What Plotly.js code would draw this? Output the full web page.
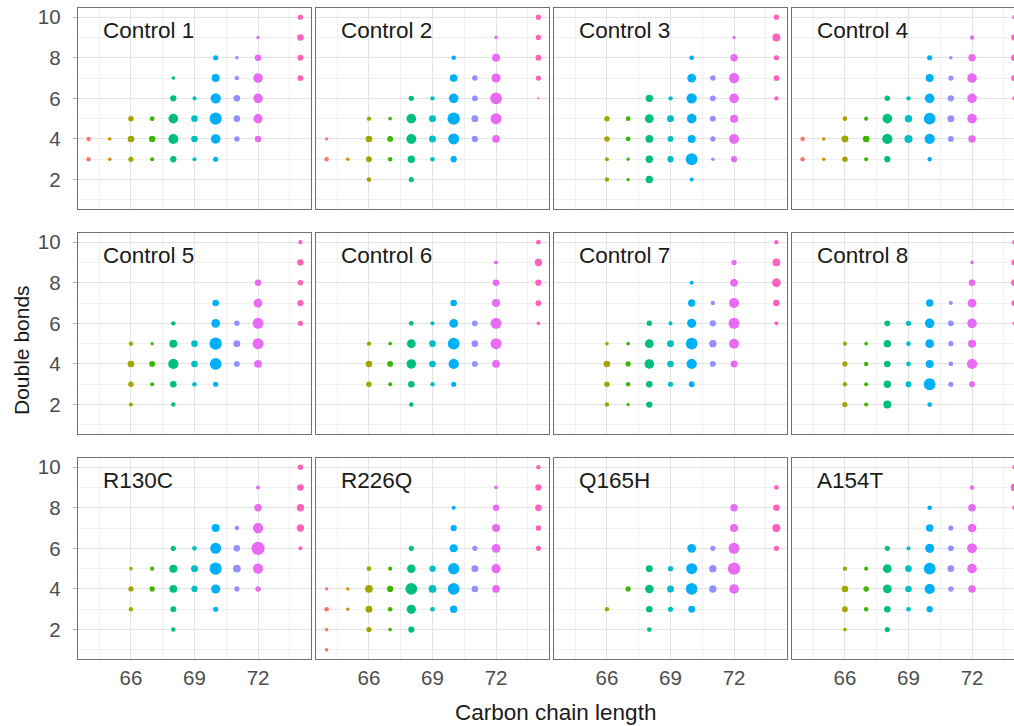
<!DOCTYPE html>
<html>
<head>
<meta charset="utf-8">
<script src="https://cdn.plot.ly/plotly-3.0.1.min.js"></script>
<style>
html, body { margin: 0; padding: 0; overflow: hidden; background: #fff; }
#plot { width: 1025px; height: 726px; }
</style>
</head>
<body>
<div id="plot"></div>
<script>
// ---- data: [carbon chain length, double bonds, relative abundance] ----
const chainLevels = [64, 65, 66, 67, 68, 69, 70, 71, 72, 74];
const panelNames = ["Control 1", "Control 2", "Control 3", "Control 4",
                    "Control 5", "Control 6", "Control 7", "Control 8",
                    "R130C", "R226Q", "Q165H", "A154T"];
const xTicks = [66, 69, 72];
const yTicks = [2, 4, 6, 8, 10];

const control1 = [
  [64,4,4],[64,3,4],[65,4,3.3],[65,3,3.3],
  [66,5,5],[66,4,6],[66,3,4.7],
  [67,5,4.3],[67,4,5.7],[67,3,3.7],
  [68,7,3.3],[68,6,5.7],[68,5,8.7],[68,4,9],[68,3,5.7],
  [69,6,3.7],[69,5,6],[69,4,6],[69,3,3.7],
  [70,8,4.7],[70,7,7.3],[70,6,9.3],[70,5,11],[70,4,8.7],[70,3,4.7],
  [71,8,3.3],[71,7,4],[71,6,6],[71,5,6],[71,4,5],
  [72,9,3],[72,8,6],[72,7,8.7],[72,6,8.7],[72,5,8.3],[72,4,6],
  [74,10,4.7],[74,9,6],[74,8,5.3],[74,7,5.3]
];
const control2 = [
  [64,4,3],[64,3,4],[65,3,3.3],
  [66,5,4],[66,4,6],[66,3,5.3],[66,2,4.3],
  [67,5,3.3],[67,4,5.3],[67,3,4],
  [68,6,4.7],[68,5,8.7],[68,4,9],[68,3,6.7],[68,2,4.7],
  [69,6,4],[69,5,6.3],[69,4,6.3],[69,3,4.3],
  [70,8,4.3],[70,7,7],[70,6,8.7],[70,5,11.3],[70,4,10],[70,3,5.7],
  [71,7,5],[71,6,5.3],[71,5,6.3],[71,4,5.7],
  [72,9,3.3],[72,8,7.3],[72,7,8.3],[72,6,10.7],[72,5,10],[72,4,7],
  [74,10,4.7],[74,9,4.7],[74,8,5.3],[74,7,4.7],[74,6,2]
];
const control3 = [
  [66,5,5],[66,4,5],[66,3,3.7],[66,2,4],
  [67,5,4.3],[67,4,4.3],[67,3,3],[67,2,3],
  [68,6,6.7],[68,5,8],[68,4,7],[68,3,6.7],[68,2,6.7],
  [69,6,4],[69,5,6.3],[69,4,5.3],[69,3,5.7],
  [70,8,4.3],[70,7,8],[70,6,9.3],[70,5,8.7],[70,4,7.3],[70,3,10.7],[70,2,3.7],
  [71,7,5],[71,6,5.3],[71,5,5.3],[71,4,4.7],[71,3,3.3],
  [72,9,3],[72,8,6.7],[72,7,9.3],[72,6,8.7],[72,5,7.3],[72,4,9],[72,3,5.7],
  [74,10,4.7],[74,9,7.3],[74,8,4.7],[74,7,5.3],[74,6,4]
];
const control4 = [
  [64,4,4],[64,3,4],[65,4,3.3],[65,3,3.3],
  [66,5,4.3],[66,4,6.3],[66,3,5],
  [67,5,3.7],[67,4,6],[67,3,3.7],
  [68,6,5],[68,5,8.7],[68,4,9.3],[68,3,5.7],
  [69,6,4],[69,5,6.7],[69,4,7.3],
  [70,8,4.7],[70,7,7.3],[70,6,8.7],[70,5,10.7],[70,4,9.3],[70,3,4],
  [71,8,3.3],[71,7,4.7],[71,6,5.7],[71,5,6.3],[71,4,5.3],
  [72,9,4],[72,8,6.7],[72,7,8.7],[72,6,8.7],[72,5,8.7],[72,4,6.7],
  [74,10,3.7],[74,9,5.7],[74,8,6],[74,7,5.7],[74,6,3.7]
];
const control5 = [
  [66,5,4],[66,4,6],[66,3,5],[66,2,3.7],
  [67,5,3],[67,4,5.3],[67,3,3.7],
  [68,6,4],[68,5,7.3],[68,4,9.3],[68,3,6],[68,2,4],
  [69,5,6],[69,4,6],[69,3,4.3],
  [70,7,6],[70,6,8],[70,5,11.3],[70,4,10.7],[70,3,4.7],
  [71,6,5],[71,5,6.3],[71,4,5.3],
  [72,8,6],[72,7,8],[72,6,10],[72,5,10],[72,4,7],
  [74,10,3.7],[74,9,5.7],[74,8,5],[74,7,5.7],[74,6,4.7]
];
const control6 = [
  [66,5,4],[66,4,6],[66,3,5],
  [67,5,3.3],[67,4,5.3],[67,3,3.7],
  [68,6,4.3],[68,5,8],[68,4,8.7],[68,3,6],[68,2,4],
  [69,6,3.7],[69,5,6],[69,4,6],[69,3,4],
  [70,7,6],[70,6,8],[70,5,10.7],[70,4,9.3],[70,3,4.7],
  [71,6,5.3],[71,5,6],[71,4,5.3],
  [72,9,3.7],[72,8,6],[72,7,7.3],[72,6,10],[72,5,10],[72,4,7],
  [74,10,4.3],[74,9,6.7],[74,8,5.7],[74,7,5.3],[74,6,3.3]
];
const control7 = [
  [66,5,3.3],[66,4,6],[66,3,5],[66,2,4],
  [67,5,3.3],[67,4,4.7],[67,3,4],[67,2,3],
  [68,6,5],[68,5,8],[68,4,8.7],[68,3,6],[68,2,5.7],
  [69,6,3.7],[69,5,6.3],[69,4,6],[69,3,4.7],
  [70,8,3.7],[70,7,6.7],[70,6,8.3],[70,5,10.7],[70,4,9.3],[70,3,5.3],
  [71,7,4],[71,6,5.7],[71,5,6.7],[71,4,5.3],
  [72,9,4.7],[72,8,7],[72,7,9],[72,6,10],[72,5,9],[72,4,6.3],
  [74,10,4],[74,9,7],[74,8,8],[74,7,6],[74,6,3.7]
];
const control8 = [
  [66,5,3.7],[66,4,4.7],[66,3,4],[66,2,4.7],
  [67,5,3.3],[67,4,4],[67,3,3.7],[67,2,3.7],
  [68,6,5.3],[68,5,6.7],[68,4,6],[68,3,6.7],[68,2,7.3],
  [69,6,4.7],[69,5,4.3],[69,4,4.3],[69,3,5.3],
  [70,7,6.7],[70,6,8.7],[70,5,8],[70,4,7.3],[70,3,10.7],[70,2,4.3],
  [71,7,3.7],[71,6,5.3],[71,5,4.7],[71,4,4.3],[71,3,4.7],
  [72,9,3.3],[72,8,6],[72,7,8],[72,6,8.7],[72,5,7.3],[72,4,9.3],[72,3,5.3],
  [74,10,4],[74,9,5.3],[74,8,6],[74,7,5.3],[74,6,3.3]
];
const r130c = [
  [66,5,3.3],[66,4,4.7],[66,3,4],
  [67,5,3.7],[67,4,4.7],
  [68,6,4.7],[68,5,7.3],[68,4,7],[68,3,5.3],[68,2,4],
  [69,6,4.3],[69,5,6.3],[69,4,5.7],
  [70,7,7.3],[70,6,10],[70,5,11],[70,4,8.3],[70,3,4.7],
  [71,7,4],[71,6,6],[71,5,7],[71,4,4.7],
  [72,9,3.7],[72,8,6.7],[72,7,9.3],[72,6,12],[72,5,9.3],[72,4,5],
  [74,10,5],[74,9,6],[74,8,6.7],[74,7,6.7],[74,6,3.7]
];
const r226q = [
  [64,4,3],[64,3,4.3],[64,2,3.3],[64,1,3.3],
  [65,4,3],[65,3,3],
  [66,5,4.3],[66,4,7],[66,3,6.3],[66,2,4.7],
  [67,5,3.7],[67,4,5.7],[67,3,4.3],[67,2,3.3],
  [68,6,4.7],[68,5,7.7],[68,4,10.7],[68,3,8.3],[68,2,5.7],
  [69,5,5.7],[69,4,7],[69,3,4.3],
  [70,8,3.7],[70,7,5.7],[70,6,7.3],[70,5,10.3],[70,4,10.7],[70,3,6.7],
  [71,6,4.7],[71,5,6.3],[71,4,6],
  [72,9,3.3],[72,8,6],[72,7,7.3],[72,6,8],[72,5,8.3],[72,4,7],
  [74,10,4],[74,9,5.7],[74,8,6],[74,7,5],[74,6,4.7]
];
const q165h = [
  [66,3,4],
  [67,4,4.7],
  [68,5,6.3],[68,4,7.7],[68,3,6],[68,2,4.3],
  [69,5,4.7],[69,4,6.3],[69,3,4.7],
  [70,6,8],[70,5,10],[70,4,10.7],[70,3,6.3],
  [71,6,4.7],[71,5,6.7],[71,4,6.7],
  [72,8,6.7],[72,7,7.3],[72,6,10],[72,5,11.3],[72,4,8.7],
  [74,9,4.3],[74,8,6],[74,7,7.3],[74,6,4.7]
];
const a154t = [
  [66,5,4],[66,4,6],[66,3,5.3],[66,2,3.3],
  [67,5,3.7],[67,4,5],[67,3,4],
  [68,6,4.7],[68,5,8],[68,4,8],[68,3,6],[68,2,4.7],
  [69,6,3.7],[69,5,6],[69,4,6],[69,3,4.3],
  [70,8,4.3],[70,7,6.7],[70,6,8.3],[70,5,10.7],[70,4,9.3],[70,3,5.7],
  [71,7,4.7],[71,6,5.3],[71,5,6],[71,4,5],
  [72,9,4],[72,8,7],[72,7,7.7],[72,6,9],[72,5,8.7],[72,4,6.7],
  [74,10,3.7],[74,9,6.7],[74,8,4]
];
const panelData = [control1, control2, control3, control4,
                   control5, control6, control7, control8,
                   r130c, r226q, q165h, a154t];

// ---- styling ----
const hue = ["#F8766D", "#D89000", "#A3A500", "#39B600", "#00BF7D",
             "#00BFC4", "#00B0F6", "#9590FF", "#E76BF3", "#FF62BC"];
const W = 1025, H = 726;
const ML = 78, MT = 8, MB = 67, MR = 0;
const PW = W - ML - MR, PH = H - MT - MB;
const panelW = 233, gapW = 5, panelH = 201, gapH = 24;
const fontFam = "Liberation Sans, Arial, sans-serif";
const sizeScale = 1.1;

const traces = [];
const layout = {
  width: W, height: H,
  margin: {l: ML, r: MR, t: MT, b: MB},
  paper_bgcolor: "#ffffff", plot_bgcolor: "#ffffff",
  showlegend: false,
  font: {family: fontFam},
  annotations: []
};

panelData.forEach((pts, i) => {
  const row = Math.floor(i / 4), col = i % 4;
  const sfx = i === 0 ? "" : String(i + 1);
  const x0 = col * (panelW + gapW), y0 = row * (panelH + gapH);
  const xd = [x0 / PW, (x0 + panelW) / PW];
  const yd = [1 - (y0 + panelH) / PH, 1 - y0 / PH];
  traces.push({
    type: "scatter", mode: "markers",
    x: pts.map(p => p[0]), y: pts.map(p => p[1]),
    xaxis: "x" + sfx, yaxis: "y" + sfx,
    hoverinfo: "x+y",
    marker: {
      size: pts.map(p => p[2]), sizemode: "diameter", sizeref: 1 / sizeScale,
      color: pts.map(p => hue[chainLevels.indexOf(p[0])]),
      opacity: 1, line: {width: 0}
    }
  });
  layout["xaxis" + sfx] = {
    domain: xd, range: [63.5, 74.5], anchor: "y" + sfx,
    tickvals: xTicks, showticklabels: row === 2,
    ticks: "",
    tickfont: {size: 20.5, color: "#4d4d4d", family: fontFam},
    showgrid: true, gridcolor: "#e3e3e3", gridwidth: 1,
    minor: {tick0: 64.5, dtick: 3, showgrid: true, gridcolor: "#f0f0f0", gridwidth: 1},
    zeroline: false, showline: true, mirror: true, linecolor: "#707070", linewidth: 1.3
  };
  layout["yaxis" + sfx] = {
    domain: yd, range: [0.55, 10.45], anchor: "x" + sfx,
    tickvals: yTicks, showticklabels: col === 0,
    ticks: col === 0 ? "outside" : "", ticklen: 4, tickcolor: "#b3b3b3",
    ticklabelstandoff: 8,
    tickfont: {size: 20.5, color: "#4d4d4d", family: fontFam},
    showgrid: true, gridcolor: "#e3e3e3", gridwidth: 1,
    minor: {tick0: 1, dtick: 2, showgrid: true, gridcolor: "#f0f0f0", gridwidth: 1},
    zeroline: false, showline: true, mirror: true, linecolor: "#707070", linewidth: 1.3
  };
  layout.annotations.push({
    text: panelNames[i], showarrow: false,
    xref: "x" + sfx + " domain", yref: "y" + sfx + " domain",
    x: 0.1, y: 0.89, xanchor: "left", yanchor: "middle",
    font: {size: 22.5, color: "#1a1a1a", family: fontFam}
  });
});

layout.annotations.push({
  text: "Carbon chain length", showarrow: false,
  xref: "paper", yref: "paper", x: (555 - ML) / PW, y: 0, yshift: -53,
  xanchor: "center", yanchor: "middle",
  font: {size: 22.5, color: "#1a1a1a", family: fontFam}
});
layout.annotations.push({
  text: "Double bonds", showarrow: false, textangle: -90,
  xref: "paper", yref: "paper", x: 0, xshift: -56, y: 1 - (350 - MT) / PH,
  xanchor: "center", yanchor: "middle",
  font: {size: 21, color: "#1a1a1a", family: fontFam}
});

Plotly.newPlot("plot", traces, layout, {displayModeBar: false, staticPlot: true});
</script>
</body>
</html>
